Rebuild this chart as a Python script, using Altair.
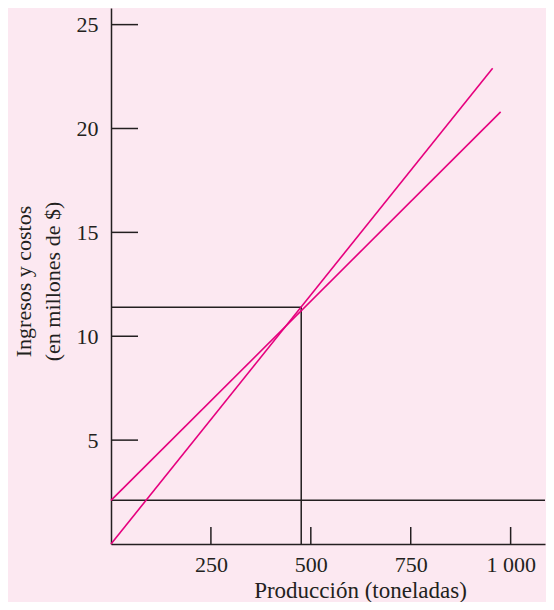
import altair as alt
import pandas as pd

# Data
rev_x = [0, 955]
rev_y = [0, 22.9]
cost_x = [0, 975]
cost_y = [2.1, 20.8]
fixed_x = [0, 1086]
fixed_y = [2.1, 2.1]
be_x = 476
be_y = 11.4
x_ticks = [250, 500, 750, 1000]
x_tick_labels = ["250", "500", "750", "1 000"]
y_ticks = [5, 10, 15, 20, 25]

BG = "#fce8f1"
MAG = "#e6007e"
INK = "#231f20"
FONT = "Liberation Serif"
FS = 22

W, H = 434, 536
xs = alt.Scale(domain=[0, 1086], nice=False, zero=False)
ys = alt.Scale(domain=[0, 25.8], nice=False, zero=False)

label_expr = " : ".join(
    [f"datum.value == {v} ? '{l}'" for v, l in zip(x_ticks, x_tick_labels)]
) + " : datum.label"

x_axis = alt.Axis(values=x_ticks, labelExpr=label_expr, ticks=False, grid=False,
                  domainColor=INK, domainWidth=1.5, labelFont=FONT, labelFontSize=FS,
                  labelColor=INK, labelPadding=10, title="Producción (toneladas)",
                  titleFont=FONT, titleFontSize=23, titleFontWeight="normal", titleColor=INK,
                  titleX=249, titleY=53, titleBaseline="alphabetic", titleAlign="center")
y_axis = alt.Axis(values=y_ticks, ticks=False, grid=False,
                  domainColor=INK, domainWidth=1.5, labelFont=FONT, labelFontSize=FS,
                  labelColor=INK, labelPadding=13,
                  title=["Ingresos y costos", "(en millones de $)"],
                  titleFont=FONT, titleFontSize=FS, titleFontWeight="normal", titleColor=INK,
                  titleAngle=270, titleX=-88, titleY=273, titleBaseline="middle",
                  titleAlign="center", titleLineHeight=29)

rev = pd.DataFrame({"x": rev_x, "y": rev_y})
cost = pd.DataFrame({"x": cost_x, "y": cost_y})
fixed = pd.DataFrame({"x": fixed_x, "y": fixed_y})
box = pd.DataFrame({"x": [0, be_x, be_x], "y": [be_y, be_y, 0], "o": [0, 1, 2]})

base_axes = alt.Chart(pd.DataFrame({"x": [0], "y": [0]})).mark_point(opacity=0).encode(
    x=alt.X("x:Q", scale=xs, axis=x_axis),
    y=alt.Y("y:Q", scale=ys, axis=y_axis),
)

fixed_line = alt.Chart(fixed).mark_line(color=INK, strokeWidth=1.5).encode(
    x=alt.X("x:Q", scale=xs), y=alt.Y("y:Q", scale=ys))
box_line = alt.Chart(box).mark_line(color=INK, strokeWidth=1.5).encode(
    x=alt.X("x:Q", scale=xs), y=alt.Y("y:Q", scale=ys), order="o:Q")
rev_line = alt.Chart(rev).mark_line(color=MAG, strokeWidth=1.6).encode(
    x=alt.X("x:Q", scale=xs), y=alt.Y("y:Q", scale=ys))
cost_line = alt.Chart(cost).mark_line(color=MAG, strokeWidth=1.6).encode(
    x=alt.X("x:Q", scale=xs), y=alt.Y("y:Q", scale=ys))

yt = alt.Chart(pd.DataFrame({"v": y_ticks})).mark_rule(color=INK, strokeWidth=1.5).encode(
    y=alt.Y("v:Q", scale=ys), x=alt.value(0), x2=alt.value(27))
xt = alt.Chart(pd.DataFrame({"v": x_ticks})).mark_rule(color=INK, strokeWidth=1.5).encode(
    x=alt.X("v:Q", scale=xs), y=alt.value(H - 17), y2=alt.value(H))

chart = alt.layer(base_axes, fixed_line, box_line, cost_line, rev_line, yt, xt).properties(
    width=W, height=H,
    autosize=alt.AutoSizeParams(type="none"),
    padding={"left": 103, "top": 0, "right": 1, "bottom": 58},
    background=BG,
).configure_view(stroke=None)

chart.save("out.html", embed_options={"renderer": "svg", "actions": False})
